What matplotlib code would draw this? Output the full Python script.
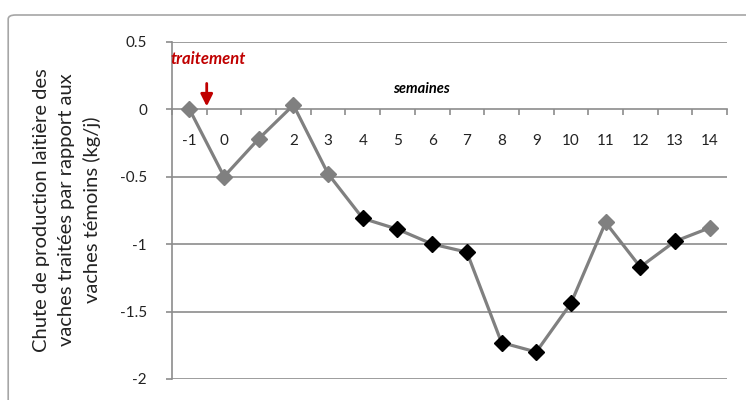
import matplotlib
matplotlib.use("Agg")
import matplotlib.pyplot as plt
from matplotlib.patches import FancyBboxPatch

# données
semaines = ["-1", "0", "1", "2", "3", "4", "5", "6", "7", "8", "9", "10", "11", "12", "13", "14"]
chute = [0.0, -0.50, -0.22, 0.03, -0.48, -0.81, -0.89, -1.00, -1.06, -1.73, -1.80, -1.44, -0.84, -1.17, -0.98, -0.88]
couleur_marqueur = ["#808080", "#808080", "#808080", "#808080", "#808080",
                    "black", "black", "black", "black", "black", "black", "black",
                    "#808080", "black", "black", "#808080"]
y_ticks = [0.5, 0, -0.5, -1, -1.5, -2]
y_labels = ["0.5", "0", "-0.5", "-1", "-1.5", "-2"]

plt.rcParams["font.family"] = ["Lato", "DejaVu Sans"]

fig = plt.figure(figsize=(7.46, 4.0), dpi=100)
fig.patch.set_facecolor("white")

# cadre arrondi autour du graphique
cadre = FancyBboxPatch((0.011, -0.1), 1.2, 1.0625, boxstyle="round,pad=0,rounding_size=0.01",
                       transform=fig.transFigure, facecolor="none", edgecolor="#a6a6a6", linewidth=1.2)
fig.patches.append(cadre)

ax = fig.add_axes([0.2306, 0.0525, 0.7439, 0.8435])
x = list(range(len(semaines)))

for yv in y_ticks:
    if yv != 0:
        ax.axhline(yv, color="#8c8c8c", linewidth=1.2, zorder=1)

ax.plot(x, chute, color="#808080", linewidth=2.3, zorder=3)
for xi, yi, c in zip(x, chute, couleur_marqueur):
    ax.plot(xi, yi, marker="D", markersize=8, color=c, markeredgecolor=c, zorder=4)

ax.set_xlim(-0.5, len(semaines) - 0.5)
ax.set_ylim(-2, 0.5)

for s in ["top", "right"]:
    ax.spines[s].set_visible(False)
ax.spines["bottom"].set_position(("data", 0))
ax.spines["bottom"].set_color("#8c8c8c")
ax.spines["bottom"].set_linewidth(1.2)
ax.spines["left"].set_color("#8c8c8c")
ax.spines["left"].set_linewidth(1.2)

ax.set_xticks(x)
ax.set_xticklabels(semaines, fontsize=11, color="#222222")
ax.set_xticks([i - 0.5 for i in range(len(semaines) + 1)], minor=True)
ax.tick_params(axis="x", which="major", length=0, pad=18)
ax.tick_params(axis="x", which="minor", length=4, direction="out", color="#8c8c8c", width=1.2)

ax.set_yticks(y_ticks)
ax.set_yticklabels(y_labels, fontsize=11, color="#222222")
ax.tick_params(axis="y", length=4, color="#8c8c8c", width=1.2, pad=14)

# légende axe y sur trois lignes
fig.text(0.09, 0.475, "Chute de production laitière des\nvaches traitées par rapport aux\nvaches témoins (kg/j)",
         rotation=90, ha="center", va="center", fontsize=14.5, color="#222222", linespacing=1.55,
         multialignment="center")

ax.text(6.7, 0.15, "semaines", fontsize=10.5, fontstyle="italic", fontweight="bold", ha="center", va="center")

# flèche du traitement, entre les semaines -1 et 0
ax.annotate("", xy=(0.5, 0.02), xytext=(0.5, 0.19),
            arrowprops=dict(arrowstyle="-|>", color="#c00000", lw=2, mutation_scale=18,
                            shrinkA=0, shrinkB=0))
ax.text(0.55, 0.37, "traitement", fontsize=12, fontstyle="italic", fontweight="bold",
        color="#c00000", ha="center", va="center")

fig.savefig("out.png", dpi=100)
